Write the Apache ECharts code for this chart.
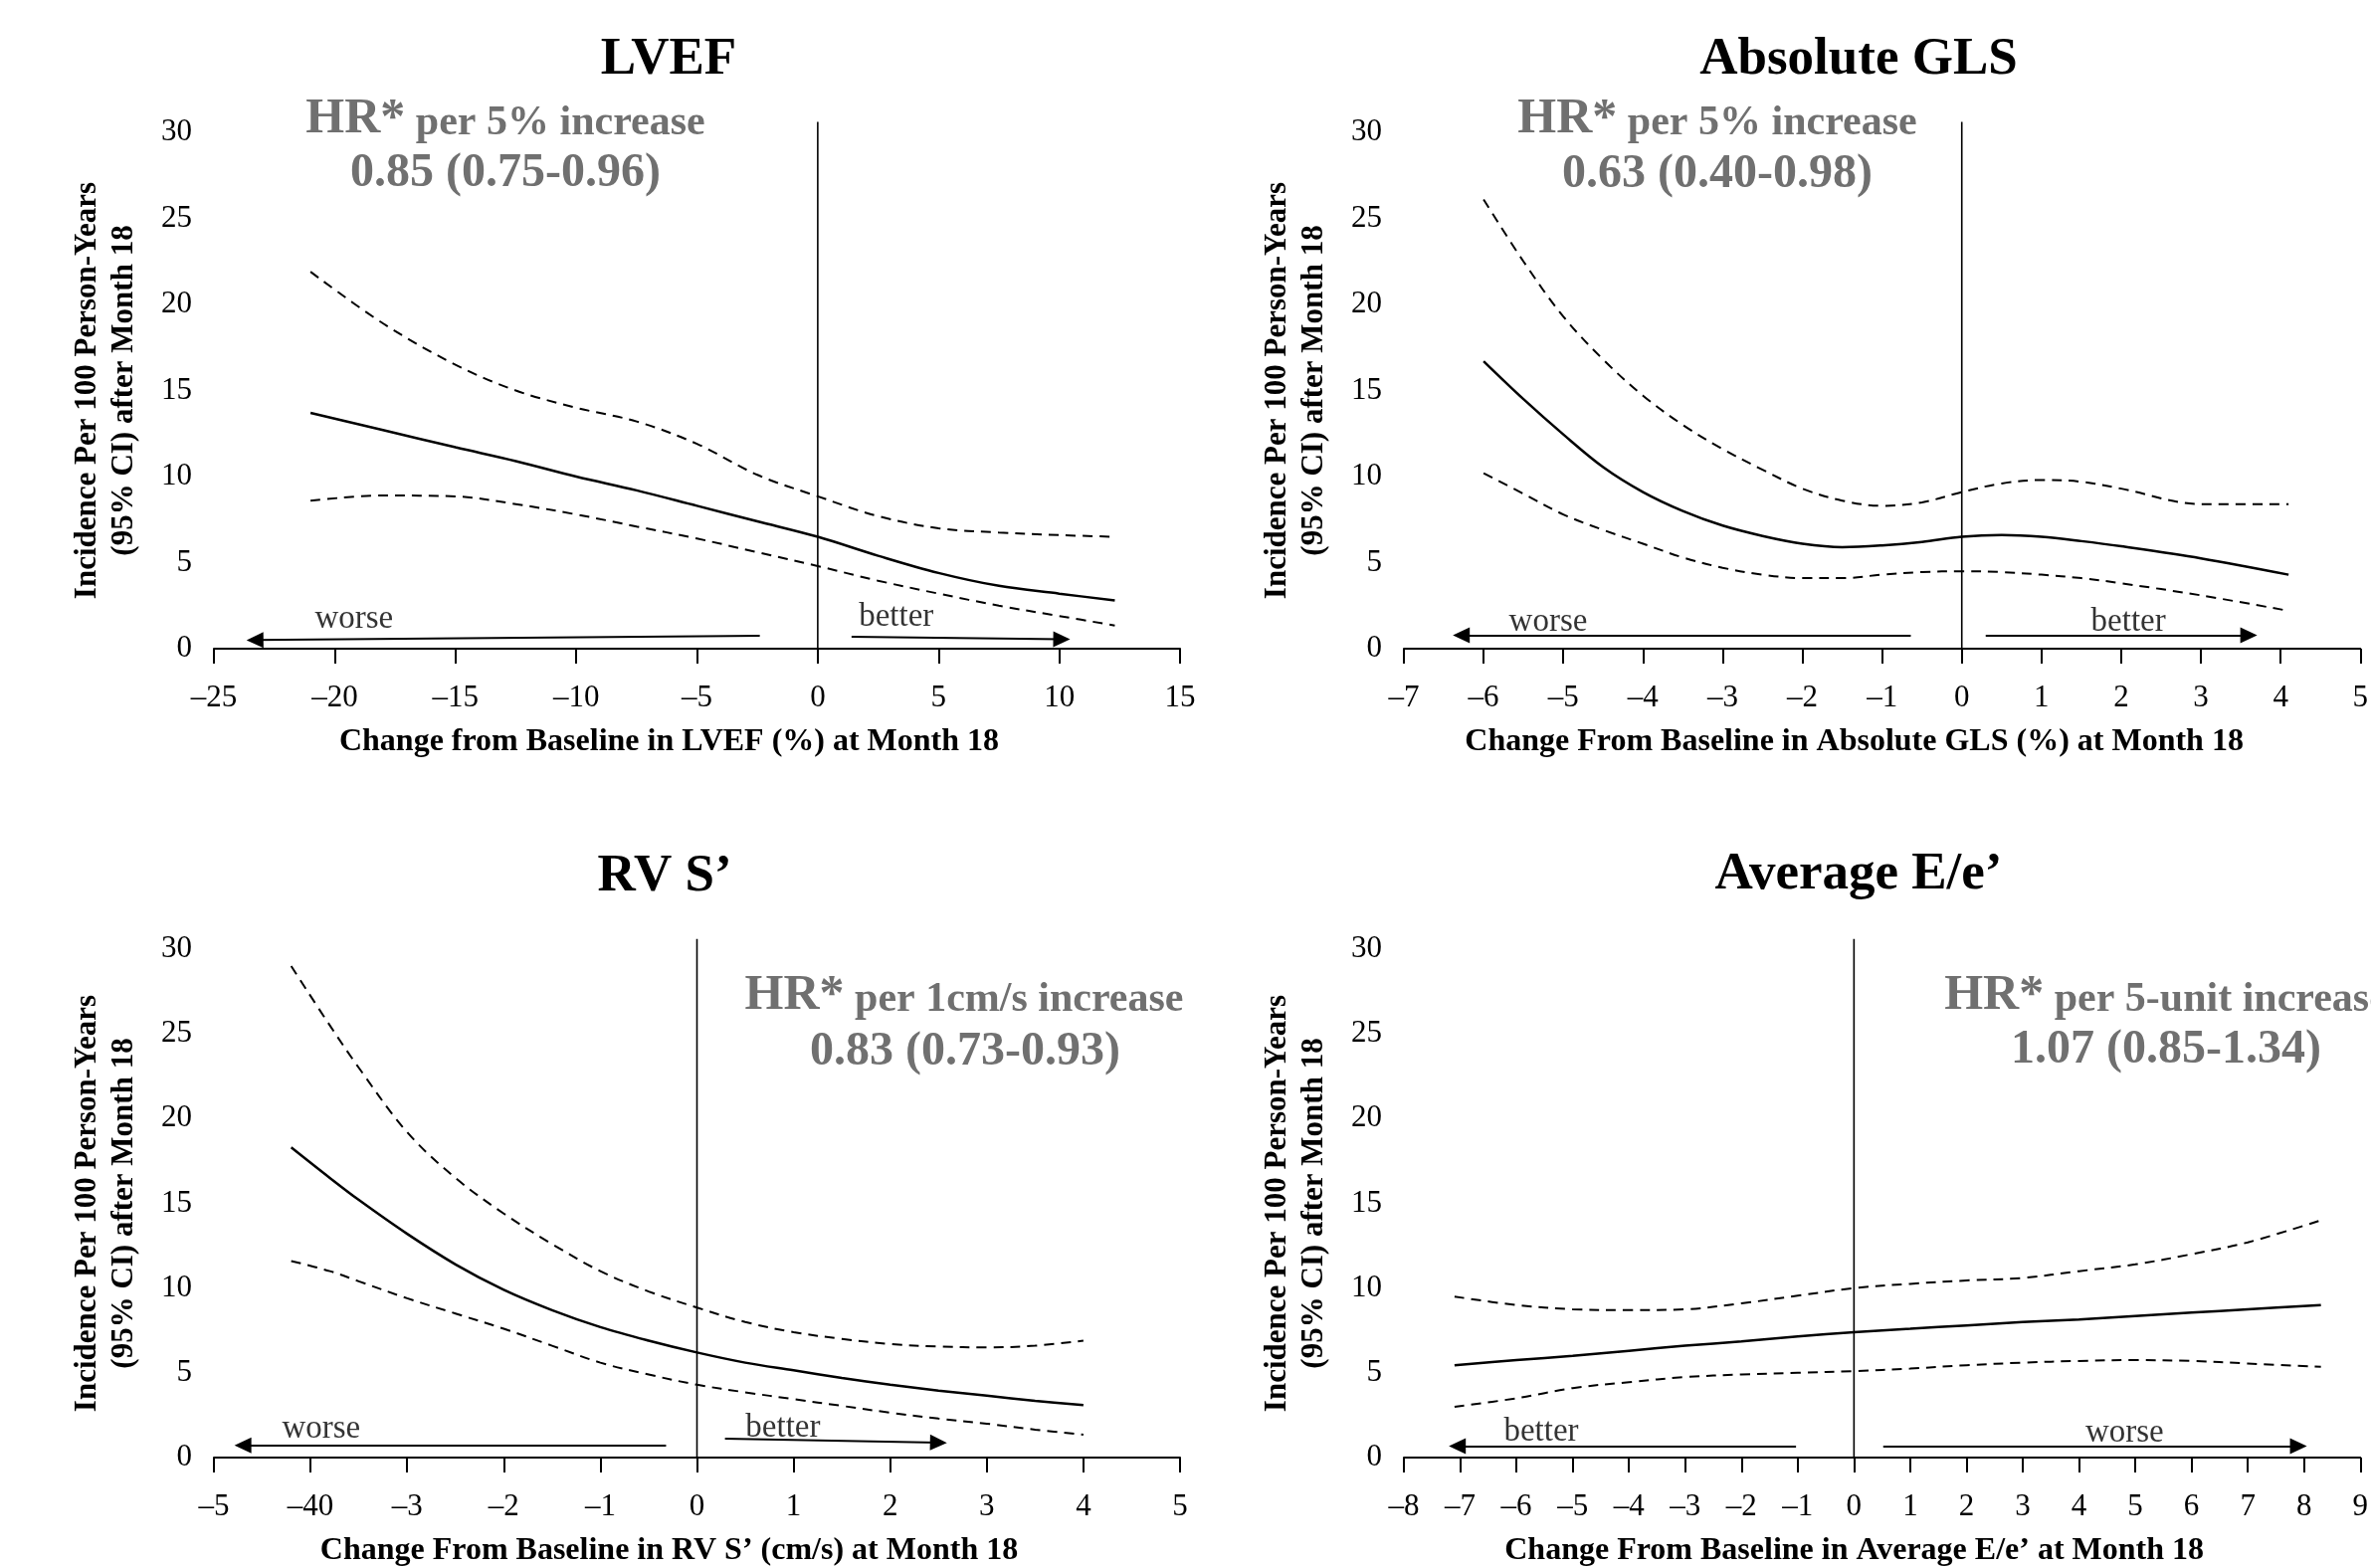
<!DOCTYPE html>
<html>
<head>
<meta charset="utf-8">
<title>Change from baseline vs incidence</title>
<script src="https://cdn.jsdelivr.net/npm/echarts@6/dist/echarts.min.js"></script>
<style>
  html, body { margin: 0; padding: 0; background: #fff; }
  #chart { width: 2383px; height: 1576px; }
</style>
</head>
<body>
<div id="chart"></div>
<script>
  // ---- data ----
  // LVEF
  const lvefX = [-21, -18, -15, -12.5, -10, -7.5, -5, -2.5, 0, 2.5, 5, 7.5, 10, 12.3];
  const lvefFit = [13.7, 12.7, 11.7, 10.9, 10.0, 9.2, 8.3, 7.4, 6.5, 5.4, 4.4, 3.65, 3.2, 2.8];
  const lvefUpper = [21.9, 18.9, 16.5, 15.0, 14.0, 13.2, 11.9, 10.1, 8.85, 7.7, 7.0, 6.75, 6.6, 6.5];
  const lvefLower = [8.6, 8.9, 8.85, 8.4, 7.8, 7.1, 6.4, 5.6, 4.8, 3.95, 3.2, 2.5, 1.9, 1.35];

  // Absolute GLS
  const glsX = [-6, -5.5, -5, -4.5, -4, -3.5, -3, -2.5, -2, -1.5, -1, -0.5, 0, 0.5, 1, 1.5, 2, 3, 4.1];
  const glsFit = [16.7, 14.5, 12.45, 10.55, 9.1, 8.0, 7.15, 6.55, 6.1, 5.9, 6.0, 6.2, 6.5, 6.6, 6.5, 6.25, 5.95, 5.25, 4.3];
  const glsUpper = [26.1, 22.5, 19.3, 16.8, 14.7, 13.0, 11.6, 10.4, 9.3, 8.6, 8.3, 8.5, 9.1, 9.6, 9.8, 9.7, 9.3, 8.4, 8.4];
  const glsLower = [10.2, 9.0, 7.8, 6.9, 6.1, 5.3, 4.7, 4.3, 4.1, 4.1, 4.3, 4.45, 4.5, 4.45, 4.3, 4.1, 3.8, 3.1, 2.2];

  // RV S'
  const rvX = [-4.2, -3.8, -3.5, -3, -2.5, -2, -1.5, -1, -0.5, 0, 0.5, 1, 1.5, 2, 2.5, 3, 3.5, 4];
  const rvFit = [18.3, 16.5, 15.2, 13.2, 11.4, 9.9, 8.7, 7.7, 6.9, 6.2, 5.6, 5.15, 4.7, 4.3, 3.95, 3.65, 3.35, 3.1];
  const rvUpper = [29.0, 25.5, 23.0, 19.2, 16.5, 14.4, 12.6, 11.0, 9.8, 8.85, 8.0, 7.4, 7.0, 6.7, 6.55, 6.5, 6.6, 6.9];
  const rvLower = [11.6, 11.0, 10.4, 9.4, 8.5, 7.6, 6.6, 5.6, 4.9, 4.3, 3.85, 3.45, 3.05, 2.65, 2.3, 2.0, 1.65, 1.35];
  const rvTickLabels = ['–5', '–40', '–3', '–2', '–1', '0', '1', '2', '3', '4', '5'];

  // Average E/e'
  const eeX = [-7.1, -6, -5, -4, -3, -2, -1, 0, 1, 2, 3, 4, 5, 6, 7, 8.3];
  const eeFit = [5.45, 5.75, 6.0, 6.3, 6.6, 6.85, 7.15, 7.4, 7.6, 7.8, 8.0, 8.15, 8.35, 8.55, 8.75, 9.0];
  const eeUpper = [9.5, 9.0, 8.75, 8.7, 8.75, 9.1, 9.55, 10.0, 10.25, 10.45, 10.6, 11.0, 11.4, 12.0, 12.7, 14.0];
  const eeLower = [3.0, 3.5, 4.1, 4.45, 4.75, 4.9, 5.0, 5.1, 5.25, 5.45, 5.6, 5.7, 5.75, 5.7, 5.55, 5.35];

  // arrows under each curve: [fromX, fromY, toX (tip), toY]
  const lvefArrows = [[-2.4, 0.75, -23.3, 0.5], [1.4, 0.7, 10.1, 0.55]];
  const glsArrows = [[-0.64, 0.78, -6.28, 0.78], [0.3, 0.78, 3.6, 0.78]];
  const rvArrows = [[-0.32, 0.72, -4.7, 0.72], [0.29, 1.12, 2.5, 0.88]];
  const eeArrows = [[-1.03, 0.68, -7.05, 0.68], [0.52, 0.68, 7.9, 0.68]];
  // arrow captions: [x, y, text]
  const lvefNotes = [[-19.2, 1.7, 'worse'], [3.25, 1.85, 'better']];
  const glsNotes = [[-5.19, 1.55, 'worse'], [2.09, 1.55, 'better']];
  const rvNotes = [[-3.89, 1.7, 'worse'], [0.89, 1.75, 'better']];
  const eeNotes = [[-5.56, 1.5, 'better'], [4.81, 1.45, 'worse']];

  const zeroLine = [0, 30.6];

  const titles = ['LVEF', 'Absolute GLS', 'RV S’', 'Average E/e’'];
  const xNames = [
    'Change from Baseline in LVEF (%) at Month 18',
    'Change From Baseline in Absolute GLS (%) at Month 18',
    'Change From Baseline in RV S’ (cm/s) at Month 18',
    'Change From Baseline in Average E/e’ at Month 18'
  ];
  const hrUnits = ['per 5% increase', 'per 5% increase', 'per 1cm/s increase', 'per 5-unit increase'];
  const hrValues = ['0.85 (0.75-0.96)', '0.63 (0.40-0.98)', '0.83 (0.73-0.93)', '1.07 (0.85-1.34)'];
  const yName = 'Incidence Per 100 Person-Years\n(95% CI) after Month 18';

  // ---- chart ----
  const serif = '"Liberation Serif", "Times New Roman", serif';
  const chart = echarts.init(document.getElementById('chart'));

  const zip = (xs, ys) => xs.map((x, i) => [x, ys[i]]);
  const dash = (v) => (v < 0 ? '–' + Math.abs(v) : String(v));

  const panels = [
    { x: lvefX, fit: lvefFit, up: lvefUpper, lo: lvefLower, arrows: lvefArrows, notes: lvefNotes,
      min: -25, max: 15, step: 5, fmt: dash },
    { x: glsX, fit: glsFit, up: glsUpper, lo: glsLower, arrows: glsArrows, notes: glsNotes,
      min: -7, max: 5, step: 1, fmt: dash },
    { x: rvX, fit: rvFit, up: rvUpper, lo: rvLower, arrows: rvArrows, notes: rvNotes,
      min: -5, max: 5, step: 1, fmt: (v) => rvTickLabels[Math.round(v) + 5] },
    { x: eeX, fit: eeFit, up: eeUpper, lo: eeLower, arrows: eeArrows, notes: eeNotes,
      min: -8, max: 9, step: 1, fmt: dash }
  ];

  const grids = [
    { left: 215, top: 133, width: 971, height: 519 },
    { left: 1411, top: 133, width: 972, height: 519 },
    { left: 215, top: 954, width: 971, height: 521 },
    { left: 1411, top: 954, width: 972, height: 521 }
  ];

  const xAxes = panels.map((p, i) => ({
    type: 'value',
    gridIndex: i,
    min: p.min,
    max: p.max,
    interval: p.step,
    name: xNames[i],
    nameLocation: 'middle',
    nameGap: 78,
    nameTextStyle: {
      fontFamily: serif, fontSize: 32, fontWeight: 'bold', color: '#000',
      padding: [0, 56, 0, 0]
    },
    axisLine: { show: true, onZero: false, lineStyle: { color: '#000', width: 2 } },
    axisTick: { show: true, length: 15, lineStyle: { color: '#000', width: 2 } },
    splitLine: { show: false },
    axisLabel: {
      fontFamily: serif, fontSize: 31, color: '#000', margin: 34,
      showMinLabel: true, showMaxLabel: true,
      formatter: p.fmt
    }
  }));

  const yAxes = panels.map((p, i) => ({
    type: 'value',
    gridIndex: i,
    min: 0,
    max: 30,
    interval: 5,
    name: yName,
    nameLocation: 'middle',
    nameRotate: 90,
    nameGap: 72,
    nameTextStyle: { fontFamily: serif, fontSize: 31, fontWeight: 'bold', color: '#000', lineHeight: 37 },
    axisLine: { show: false },
    axisTick: { show: false },
    splitLine: { show: false },
    axisLabel: { fontFamily: serif, fontSize: 31, color: '#000', margin: 22, padding: [4, 0, 0, 0] }
  }));

  const series = [];
  panels.forEach((p, i) => {
    const base = { xAxisIndex: i, yAxisIndex: i, symbol: 'none', silent: true, smooth: 0.35 };
    series.push(Object.assign({}, base, {
      type: 'line', data: zip(p.x, p.fit),
      lineStyle: { color: '#000', width: 2.5 }
    }));
    series.push(Object.assign({}, base, {
      type: 'line', data: zip(p.x, p.up),
      lineStyle: { color: '#000', width: 2, type: [10, 7] }
    }));
    series.push(Object.assign({}, base, {
      type: 'line', data: zip(p.x, p.lo),
      lineStyle: { color: '#000', width: 2, type: [10, 7] }
    }));
    // vertical reference line at 0, carrying the direction arrows
    series.push({
      type: 'line', xAxisIndex: i, yAxisIndex: i, symbol: 'none', silent: true, clip: false,
      data: [[0, zeroLine[0]], [0, zeroLine[1]]],
      lineStyle: { color: '#000', width: 1.6 },
      markLine: {
        silent: true,
        symbol: ['none', 'triangle'],
        symbolSize: [16, 17],
        label: { show: false },
        lineStyle: { color: '#000', width: 2, type: 'solid' },
        emphasis: { disabled: true },
        data: p.arrows.map((a) => [{ coord: [a[0], a[1]] }, { coord: [a[2], a[3]] }])
      }
    });
    series.push({
      type: 'scatter', xAxisIndex: i, yAxisIndex: i, silent: true,
      symbolSize: 1, itemStyle: { color: 'rgba(0,0,0,0)' },
      data: p.notes,
      label: {
        show: true, position: 'inside', formatter: (d) => d.data[2],
        fontFamily: serif, fontSize: 33, color: '#000'
      }
    });
  });

  // titles and hazard ratio notes
  const titlePos = [[672, 60], [1868, 60], [668, 881], [1868, 879]];
  const hrPos = [[508, 120, 508, 175], [1726, 120, 1726, 176], [969, 1001, 970, 1058], [2177, 1001, 2177, 1056]];
  const grey = '#707070';
  const graphics = [];
  titles.forEach((t, i) => {
    graphics.push({
      type: 'text', x: titlePos[i][0], y: titlePos[i][1], silent: true,
      style: {
        text: t, fontFamily: serif, fontSize: 53, fontWeight: 'bold', fill: '#000',
        align: 'center', verticalAlign: 'middle', textAlign: 'center', textVerticalAlign: 'middle'
      }
    });
    graphics.push({
      type: 'text', x: hrPos[i][0], y: hrPos[i][1], silent: true,
      style: {
        text: '{a|HR*}{b| ' + hrUnits[i] + '}',
        align: 'center', verticalAlign: 'middle', textAlign: 'center', textVerticalAlign: 'middle',
        rich: {
          a: { fontFamily: serif, fontSize: 50, fontWeight: 'bold', fill: grey, verticalAlign: 'bottom' },
          b: { fontFamily: serif, fontSize: 42, fontWeight: 'bold', fill: grey, verticalAlign: 'bottom' }
        }
      }
    });
    graphics.push({
      type: 'text', x: hrPos[i][2], y: hrPos[i][3], silent: true,
      style: {
        text: hrValues[i], fontFamily: serif, fontSize: 48, fontWeight: 'bold', fill: grey,
        align: 'center', verticalAlign: 'middle', textAlign: 'center', textVerticalAlign: 'middle'
      }
    });
  });

  chart.setOption({
    backgroundColor: '#fff',
    animation: false,
    grid: grids,
    xAxis: xAxes,
    yAxis: yAxes,
    series: series,
    graphic: graphics
  });
</script>
</body>
</html>
